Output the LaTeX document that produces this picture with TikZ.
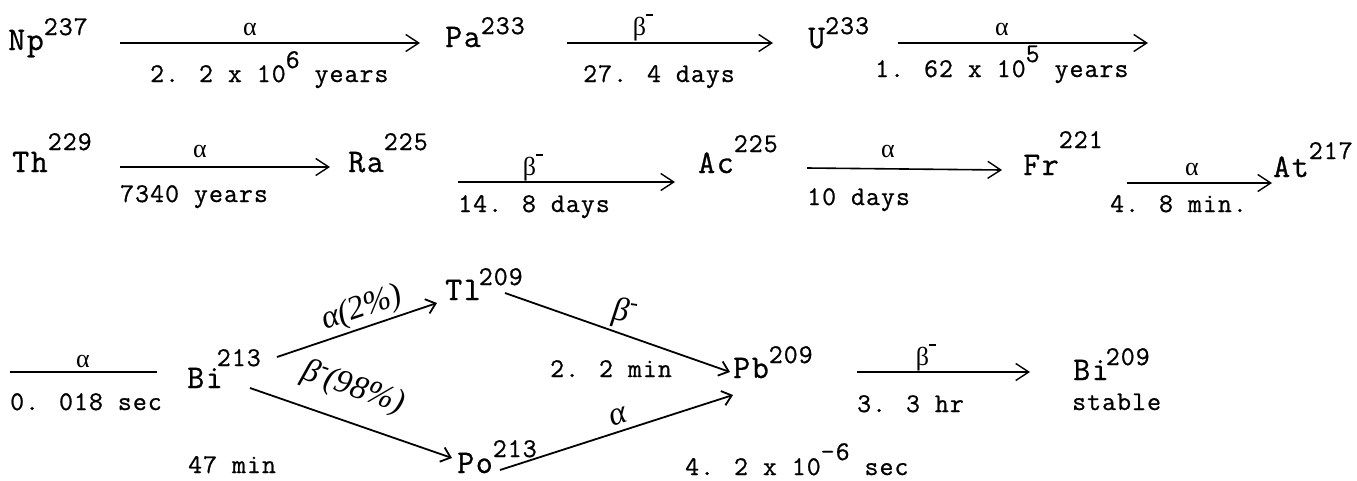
\documentclass[tikz,border=0pt]{standalone}
\usepackage{fontspec}
\setmainfont{Latin Modern Mono}[LetterSpace=4,FakeBold=0.8]
\newfontfamily\elfont{Latin Modern Mono}[LetterSpace=5,FakeBold=0.8]
\newfontfamily\gk{Liberation Serif}
\newfontfamily\hand{Liberation Serif}
\usetikzlibrary{arrows.meta}
\newcommand\el{\elfont\fontsize{33}{33}\selectfont}
\newcommand\lb{\rmfamily\fontsize{27}{27}\selectfont}
\newcommand\upr[2][15]{\raisebox{#1pt}{\lb #2}}
\newcommand\bmin{{\gk β}\raisebox{19pt}{\rule{7pt}{1.8pt}}}
\newcommand\hbmin{β\raisebox{17pt}{\kern1pt\rule{6pt}{1.8pt}}}
\tikzset{
  nuc/.style={inner sep=0pt, anchor=base west, font=\el},
  lbl/.style={inner sep=0pt, anchor=base west, font=\lb},
  clbl/.style={inner sep=0pt, anchor=base, font=\gk\fontsize{26}{26}\selectfont},
  hlbl/.style={inner sep=0pt, anchor=center, font=\hand\itshape\fontsize{33}{33}\selectfont},
  arr/.style={line width=1.6pt, -{Straight Barb[length=13pt,width=17pt,line width=1.4pt]}},
  harr/.style={line width=1.8pt, -{Straight Barb[length=9pt,width=15pt,line width=1.8pt]}},
  plain/.style={line width=1.6pt}
}
\begin{document}
\begin{tikzpicture}[x=1pt,y=-1pt]
\useasboundingbox (0,0) rectangle (1357,480);
% nuclides
\node[nuc] (np) at (8,50) {Np\upr{237}};
\node[nuc] (pa) at (445,47) {Pa\upr[13]{233}};
\node[nuc] (u) at (808,48) {U\upr[14]{233}};
\node[nuc] (th) at (12,172) {Th\upr[22]{229}};
\node[nuc] (ra) at (348,172) {Ra\upr[22]{225}};
\node[nuc] (ac) at (698,173) {Ac\upr[21]{225}};
\node[nuc] (fr) at (1023,175) {Fr\upr[27]{221}};
\node[nuc] (at) at (1273,177) {At\upr[18]{217}};
\node[nuc] (bi) at (187,388) {Bi\kern-6pt\upr[22]{213}};
\node[nuc] (tl) at (445,300) {Tl\kern-2pt\upr[15]{209}};
\node[nuc] (pb) at (733,378) {Pb\upr[15]{209}};
\node[nuc] (po) at (457,473) {Po\upr[16]{213}};
\node[nuc] (bis) at (1073,380) {Bi\kern-3pt\upr[15]{209}};
\node[lbl] (stable) at (1072,410) {stable};
% arrow end points
\coordinate (a1s) at (120,43);  \coordinate (a1e) at (420,43);
\coordinate (a2s) at (567,43);  \coordinate (a2e) at (773,43);
\coordinate (a3s) at (898,43);  \coordinate (a3e) at (1148,43);
\coordinate (b1s) at (120,167); \coordinate (b1e) at (330,167);
\coordinate (b2s) at (458,182); \coordinate (b2e) at (675,182);
\coordinate (b3s) at (807,168); \coordinate (b3e) at (1002,170);
\coordinate (b4s) at (1127,183);\coordinate (b4e) at (1272,183);
\coordinate (c0s) at (10,372);  \coordinate (c0e) at (157,372);
\coordinate (c1s) at (277,357); \coordinate (c1e) at (437,303);
\coordinate (c2s) at (250,388); \coordinate (c2e) at (452,458);
\coordinate (c3s) at (505,293); \coordinate (c3e) at (730,372);
\coordinate (c4s) at (500,470); \coordinate (c4e) at (733,395);
\coordinate (c5s) at (857,372); \coordinate (c5e) at (1030,372);
% arrows
\draw[arr] (a1s) -- (a1e);
\draw[arr] (a2s) -- (a2e);
\draw[arr] (a3s) -- (a3e);
\draw[arr] (b1s) -- (b1e);
\draw[arr] (b2s) -- (b2e);
\draw[arr] (b3s) -- (b3e);
\draw[arr] (b4s) -- (b4e);
\draw[plain] (c0s) -- (c0e);
\draw[harr] (c1s) -- (c1e);
\draw[harr] (c2s) -- (c2e);
\draw[harr] (c3s) -- (c3e);
\draw[harr] (c4s) -- (c4e);
\draw[arr] (c5s) -- (c5e);
% row 1 labels
\node[clbl] (l1a) at (250,35) {α};
\node[lbl] (l1b) at (150,82) {2. 2 x 10\upr[14]{6} years};
\node[clbl] (l2a) at (643,35) {\bmin};
\node[lbl] (l2b) at (583,82) {27. 4 days};
\node[clbl] (l3a) at (1002,35) {α};
\node[lbl] (l3b) at (875,77) {1. 62 x 10\upr[15]{5} years};
% row 2 labels
\node[clbl] (m1a) at (200,157) {α};
\node[lbl] (m1b) at (120,202) {7340 years};
\node[clbl] (m2a) at (533,175) {\bmin};
\node[lbl] (m2b) at (458,212) {14. 8 days};
\node[clbl] (m3a) at (888,157) {α};
\node[lbl] (m3b) at (807,205) {10 days};
\node[clbl] (m4a) at (1192,175) {α};
\node[lbl] (m4b) at (1110,212) {4. 8 min.};
% row 3 labels
\node[clbl] (n0a) at (83,367) {α};
\node[lbl] (n0b) at (10,410) {0. 018 sec};
\node[lbl] (n2b) at (188,473) {47 min};
\node[lbl] (n3b) at (550,377) {2. 2 min};
\node[lbl] (n4b) at (685,475) {4. 2 x 10\upr[15]{-6} sec};
\node[clbl] (n5a) at (926,365) {\bmin};
\node[lbl] (n5b) at (857,412) {3. 3 hr};
\node[hlbl, rotate=18.6] (h1) at (362,309) {α(2\%)};
\node[hlbl, rotate=-19] (h2) at (353,388) {\hbmin(98\%)};
\node[hlbl, rotate=-8] (h3) at (624,313) {\hbmin};
\node[hlbl, rotate=18] (h4) at (618,417) {α};
\end{tikzpicture}
\end{document}
